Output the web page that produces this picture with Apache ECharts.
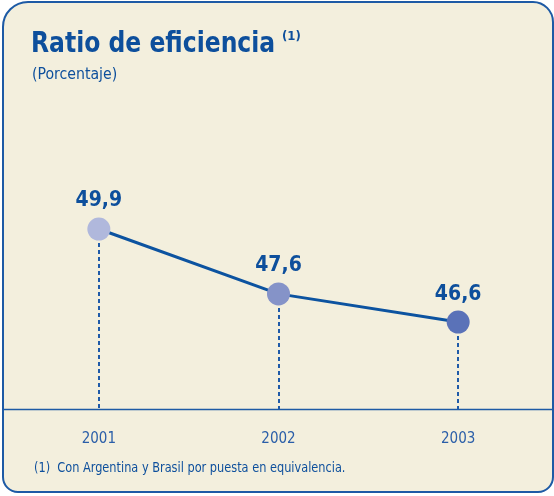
<!DOCTYPE html>
<html>
<head>
<meta charset="utf-8">
<script src="https://cdn.jsdelivr.net/npm/echarts@6/dist/echarts.min.js"></script>
<style>
  html, body { margin: 0; padding: 0; background: #fff; }
  #chart-container { width: 554px; height: 496px; }
</style>
</head>
<body>
<div id="chart-container"></div>
<script>
// datos
const years = ['2001', '2002', '2003'];
const ratio = [49.9, 47.6, 46.6];
const dotColors = ['#b0b8dc', '#8593c8', '#5a72b8'];

const yMin = 43.5, yMax = 52.5;
const blue = '#0d4f9c';
const font = '"DejaVu Sans Condensed", "Liberation Sans Narrow", sans-serif';

const chart = echarts.init(document.querySelector('#chart-container'), null, { renderer: 'canvas' });

const points = ratio.map(function (v, i) {
    return { value: v, itemStyle: { color: dotColors[i] } };
});

// lineas punteadas hasta el eje
const drops = ratio.map(function (v, i) {
    return [{ coord: [i, v] }, { coord: [i, yMin] }];
});

function texts(baseY) {
    return [
        {
            type: 'rect',
            id: 'box',
            z: -10,
            shape: { x: 3, y: 2, width: 550, height: 490, r: [25, 20, 15, 15] },
            style: { fill: '#f3efdd', stroke: '#1d5aa5', lineWidth: 2 }
        },
        {
            type: 'text', id: 'title', x: 31, y: 30, scaleX: 0.9,
            style: { text: 'Ratio de eficiencia', fill: blue, font: 'bold 29px ' + font, verticalAlign: 'top' }
        },
        {
            type: 'text', id: 'sup', x: 282, y: 30,
            style: { text: '(1)', fill: blue, font: 'bold 13px ' + font, verticalAlign: 'top' }
        },
        {
            type: 'text', id: 'sub', x: 32, y: 67, scaleX: 0.98,
            style: { text: '(Porcentaje)', fill: blue, font: '16px ' + font, verticalAlign: 'top' }
        },
        {
            type: 'text', id: 'note', x: 34, y: 461, scaleX: 0.87,
            style: { text: '(1)  Con Argentina y Brasil por puesta en equivalencia.', fill: blue, font: '14.5px ' + font, verticalAlign: 'top' }
        },
        {
            type: 'line', id: 'base', z: 3,
            shape: { x1: 3, y1: baseY, x2: 553, y2: baseY },
            style: { stroke: '#1d5aa5', lineWidth: 1.5 }
        }
    ];
}

chart.setOption({
    backgroundColor: '#ffffff',
    animation: false,
    grid: { left: 9, right: 6, top: 409.5 - 9 * 28.2, bottom: 496 - 409.5 },
    xAxis: {
        type: 'category',
        data: years,
        boundaryGap: true,
        axisLine: { show: false },
        axisTick: { show: false },
        axisLabel: { color: '#2a5ea8', fontFamily: font, fontSize: 15, margin: 22 }
    },
    yAxis: {
        type: 'value',
        min: yMin,
        max: yMax,
        show: false,
        splitLine: { show: false }
    },
    series: [{
        type: 'line',
        data: points,
        symbol: 'circle',
        symbolSize: 23,
        lineStyle: { color: '#0c53a0', width: 3 },
        label: {
            show: true,
            position: 'top',
            distance: 6,
            color: blue,
            fontFamily: font,
            fontWeight: 'bold',
            fontSize: 21,
            formatter: function (p) { return String(p.value).replace('.', ','); }
        },
        markLine: {
            silent: true,
            symbol: 'none',
            label: { show: false },
            lineStyle: { color: '#1f5aa8', type: [4, 3], width: 2, opacity: 1 },
            data: drops
        },
        z: 5
    }]
});

// eje de abajo a todo el ancho del recuadro
const baseY = Math.floor(chart.convertToPixel({ yAxisIndex: 0 }, yMin)) + 0.5;
chart.setOption({ graphic: texts(baseY) });
</script>
</body>
</html>
